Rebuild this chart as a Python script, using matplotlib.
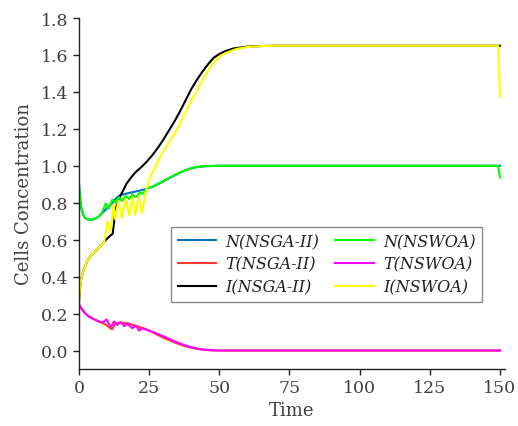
import matplotlib
matplotlib.use("Agg")
import matplotlib.pyplot as plt

# N: normal cells, T: tumour cells, I: immune cells
t_n_nsga = [0, 0.3, 0.6, 1, 1.5, 2, 3, 4, 5, 6, 7, 8, 9, 10, 11, 12, 13, 14, 15, 17,
            20, 22, 24, 26, 28, 30, 32, 34, 36, 38, 40, 42, 45, 50, 150]
n_nsga = [0.9, 0.84, 0.79, 0.76, 0.735, 0.72, 0.71, 0.708, 0.71, 0.715, 0.725, 0.74,
          0.755, 0.77, 0.785, 0.80, 0.82, 0.835, 0.842, 0.85, 0.86, 0.867, 0.875,
          0.885, 0.90, 0.915, 0.932, 0.948, 0.963, 0.976, 0.986, 0.993, 0.998, 1.0, 1.0]

t_n_nswoa = [0, 0.3, 0.6, 1, 1.5, 2, 3, 4, 5, 6, 7, 8, 9.5, 10.5, 11.9, 13.1, 14.3,
             15.2, 16.7, 17.9, 19, 20.2, 21.7, 22.6, 24, 26, 28, 30, 32, 34, 36, 38,
             40, 42, 45, 50, 149.3, 150]
n_nswoa = [0.9, 0.84, 0.79, 0.76, 0.735, 0.72, 0.71, 0.708, 0.71, 0.715, 0.725, 0.74,
           0.796, 0.767, 0.817, 0.80, 0.83, 0.81, 0.837, 0.82, 0.845, 0.83, 0.855,
           0.848, 0.875, 0.886, 0.901, 0.917, 0.934, 0.95, 0.964, 0.977, 0.987,
           0.994, 0.998, 1.0, 1.0, 0.937]

t_t_nsga = [0, 0.5, 1, 2, 3, 4, 5, 6, 7, 8, 9, 10, 11, 11.8, 13, 14, 16, 18, 20, 22,
            24, 26, 28, 30, 32, 34, 36, 38, 40, 42, 44, 47, 50, 150]
t_nsga = [0.25, 0.235, 0.225, 0.205, 0.19, 0.18, 0.172, 0.165, 0.158, 0.152, 0.145,
          0.135, 0.122, 0.115, 0.145, 0.15, 0.15, 0.145, 0.135, 0.125, 0.115, 0.10,
          0.085, 0.07, 0.057, 0.044, 0.033, 0.023, 0.015, 0.009, 0.005, 0.001, 0.0, 0.0]

t_t_nswoa = [0, 0.5, 1, 2, 3, 4, 5, 6, 7, 8, 8.9, 9.8, 11.3, 12.5, 13.7, 14.9, 16.1,
             17.3, 19, 20.3, 21.4, 22.6, 24, 26, 28, 30, 32, 34, 36, 38, 40, 42, 44,
             47, 50, 150]
t_nswoa = [0.25, 0.235, 0.225, 0.205, 0.19, 0.18, 0.172, 0.165, 0.158, 0.152, 0.157,
           0.168, 0.127, 0.157, 0.139, 0.154, 0.132, 0.145, 0.121, 0.135, 0.108,
           0.121, 0.112, 0.103, 0.09, 0.077, 0.064, 0.05, 0.038, 0.027, 0.018, 0.011,
           0.006, 0.002, 0.0, 0.0]

t_i_nsga = [0, 0.3, 0.6, 1, 1.5, 2, 3, 4, 5, 6, 7, 8, 9, 10, 11, 12, 13, 14, 15, 16,
            17, 18, 19, 20, 22, 24, 26, 28, 30, 32, 34, 36, 38, 40, 42, 44, 46, 48,
            50, 52, 55, 60, 65, 70, 150]
i_nsga = [0.26, 0.33, 0.37, 0.40, 0.43, 0.45, 0.485, 0.51, 0.525, 0.54, 0.555, 0.57,
          0.59, 0.605, 0.62, 0.632, 0.76, 0.815, 0.845, 0.875, 0.905, 0.925, 0.945,
          0.963, 0.99, 1.02, 1.055, 1.095, 1.14, 1.19, 1.24, 1.295, 1.355, 1.415,
          1.465, 1.51, 1.55, 1.585, 1.605, 1.62, 1.635, 1.645, 1.648, 1.65, 1.65]

t_i_nswoa = [0, 0.3, 0.6, 1, 1.5, 2, 3, 4, 5, 6, 7, 8, 9, 10.1, 11.3, 12.3, 12.9, 14,
             15.2, 16.7, 17.9, 19, 20, 21.2, 22.4, 23.8, 25, 26, 27.4, 29, 31, 33, 35,
             37, 39, 41, 43, 45, 47, 49, 51, 53, 56, 60, 65, 70, 149.3, 150]
i_nswoa = [0.26, 0.33, 0.37, 0.40, 0.43, 0.45, 0.485, 0.51, 0.525, 0.54, 0.555, 0.57,
           0.59, 0.70, 0.64, 0.79, 0.71, 0.81, 0.72, 0.82, 0.73, 0.83, 0.735, 0.835,
           0.745, 0.86, 0.925, 0.96, 1.0, 1.05, 1.1, 1.15, 1.2, 1.26, 1.32, 1.38,
           1.435, 1.49, 1.54, 1.575, 1.60, 1.615, 1.632, 1.643, 1.648, 1.65, 1.65, 1.375]

x_ticks = [0, 25, 50, 75, 100, 125, 150]
y_ticks = [0.0, 0.2, 0.4, 0.6, 0.8, 1.0, 1.2, 1.4, 1.6, 1.8]

series = [
    (t_n_nsga, n_nsga, "#0072BD", "N(NSGA-II)"),
    (t_t_nsga, t_nsga, "#FF3B2F", "T(NSGA-II)"),
    (t_i_nsga, i_nsga, "#000000", "I(NSGA-II)"),
    (t_n_nswoa, n_nswoa, "#00FF00", "N(NSWOA)"),
    (t_t_nswoa, t_nswoa, "#FF00FF", "T(NSWOA)"),
    (t_i_nswoa, i_nswoa, "#FFFF00", "I(NSWOA)"),
]

plt.rcParams["font.family"] = ["DejaVu Serif"]

fig = plt.figure(figsize=(5.18, 4.27), dpi=100)
ax = fig.add_axes([0.1525, 0.1335, 0.8225, 0.822])

for tx, vals, col, lab in series:
    ax.plot(tx, vals, color=col, lw=1.5, label=lab)

ax.set_xlim(0, 151.8)
ax.set_ylim(-0.1, 1.8)
ax.set_xticks(x_ticks)
ax.set_yticks(y_ticks)
ax.set_yticklabels([f"{v:.1f}" for v in y_ticks])
ax.tick_params(direction="out", length=4, width=1, labelsize=12.5,
               labelcolor="#404040", color="#222222")
for side in ("top", "right"):
    ax.spines[side].set_visible(False)
for side in ("left", "bottom"):
    ax.spines[side].set_color("#222222")
    ax.spines[side].set_linewidth(1.0)

ax.set_xlabel("Time", fontsize=13, color="#404040", labelpad=3)
ax.set_ylabel("Cells Concentration", fontsize=13, color="#404040", labelpad=6)

leg = ax.legend(ncol=2, loc="center", bbox_to_anchor=(0.631, 0.379),
                bbox_transform=fig.transFigure, fancybox=False, framealpha=1,
                edgecolor="#888888", prop={"style": "italic", "size": 11.5},
                handlelength=2.4, columnspacing=1.0, handletextpad=0.6,
                labelspacing=0.35, borderpad=0.4)
leg.get_frame().set_linewidth(1.0)
for txt in leg.get_texts():
    txt.set_color("#202020")

fig.savefig("out.png", dpi=100)
